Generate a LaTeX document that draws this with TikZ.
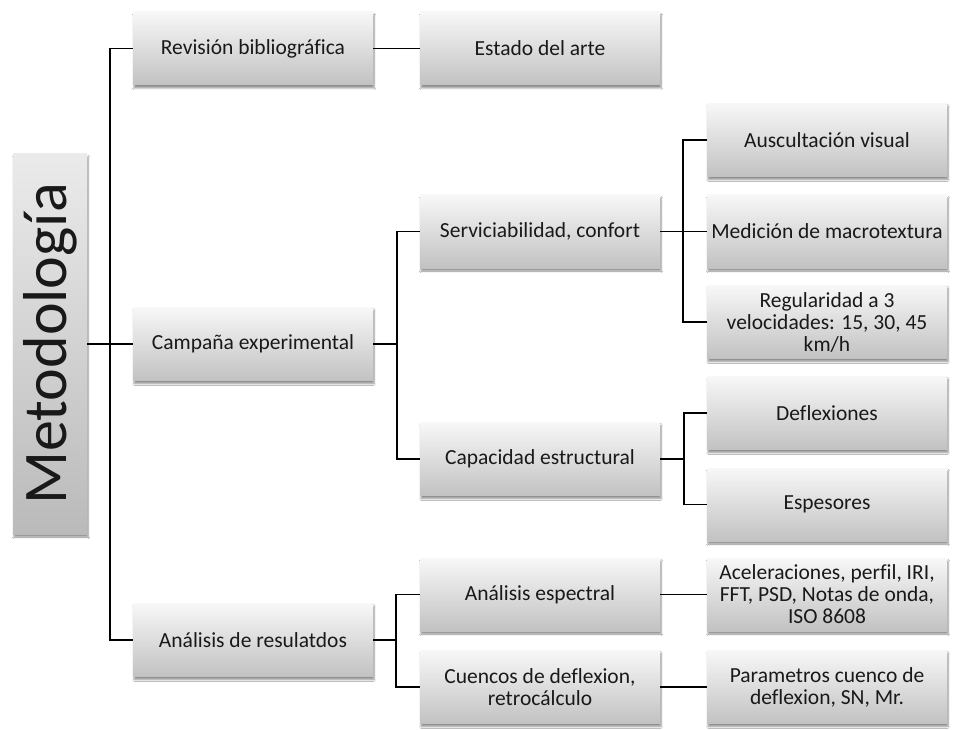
\documentclass[tikz,border=0pt]{standalone}
\usepackage{fontspec}
\setmainfont{Carlito}[Ligatures=NoCommon]
\usetikzlibrary{shadows,shadows.blur}
\tikzset{
  box/.style={rectangle, minimum width=240pt, minimum height=73pt, inner sep=1pt,
    top color=black!3, bottom color=black!24, draw=none, align=center,
    text=black!90, font=\fontsize{21.5}{22}\selectfont,
    blur shadow={shadow xshift=1pt, shadow yshift=-3pt, shadow blur steps=6, shadow opacity=45}},
  rootbox/.style={rectangle, minimum width=74pt, minimum height=380pt, inner sep=0pt,
    top color=black!8, bottom color=black!27, draw=none,
    blur shadow={shadow xshift=1pt, shadow yshift=-3pt, shadow blur steps=6, shadow opacity=45}},
  conn/.style={draw=black, line width=1.5pt, line join=miter}
}
\begin{document}
\begin{tikzpicture}[x=1pt,y=-1pt]
\useasboundingbox (0,0) rectangle (953,730);
\fill[white] (0,0) rectangle (953,730);
% root
\node[rootbox] (root) at (50,344) {};
\node[rotate=90, inner sep=0pt, text=black!90, font=\fontsize{62}{70}\selectfont] (roottext) at (root.center) {Metodología};
% level 1
\node[box] (rev)  at (253,48.5) {Revisión bibliográfica};
\node[box] (camp) at (253,344) {Campaña experimental};
\node[box] (res)  at (253,640) {Análisis de resulatdos};
% level 2
\node[box] (est)  at (540,48.5) {Estado del arte};
\node[box] (serv) at (540,231.5) {Serviciabilidad, confort};
\node[box] (cap)  at (540,459) {Capacidad estructural};
\node[box] (spec) at (540,594.5) {Análisis espectral};
\node[box] (cue)  at (540,687) {Cuencos de deflexion,\\retrocálculo};
% level 3
\node[box] (aus)  at (827,140) {Auscultación visual};
\node[box] (med)  at (827,231.5) {Medición de macrotextura};
\node[box] (reg)  at (827,322) {Regularidad a 3\\velocidades: 15, 30, 45\\km/h};
\node[box] (defl) at (827,413) {Deflexiones};
\node[box] (espe) at (827,504.5) {Espesores};
\node[box] (acel) at (827,594.5) {Aceleraciones, perfil, IRI,\\FFT, PSD, Notas de onda,\\ISO 8608};
\node[box] (par)  at (827,687) {Parametros cuenco de\\deflexion, SN, Mr.};
% branch points
\coordinate (T)  at (110,344);
\coordinate (B1) at (397,344);
\coordinate (B2) at (683,231.5);
\coordinate (B3) at (684,459);
\coordinate (B4) at (396,640);
% connectors
\draw[conn] (root.east) -- (camp.west);
\draw[conn] (rev.west) -| (T) |- (res.west);
\draw[conn] (rev.east) -- (est.west);
\draw[conn] (camp.east) -- (B1);
\draw[conn] (serv.west) -| (B1) |- (cap.west);
\draw[conn] (serv.east) -- (med.west);
\draw[conn] (aus.west) -| (B2) |- (reg.west);
\draw[conn] (cap.east) -- (B3);
\draw[conn] (defl.west) -| (B3) |- (espe.west);
\draw[conn] (res.east) -- (B4);
\draw[conn] (spec.west) -| (B4) |- (cue.west);
\draw[conn] (spec.east) -- (acel.west);
\draw[conn] (cue.east) -- (par.west);
\end{tikzpicture}
\end{document}
